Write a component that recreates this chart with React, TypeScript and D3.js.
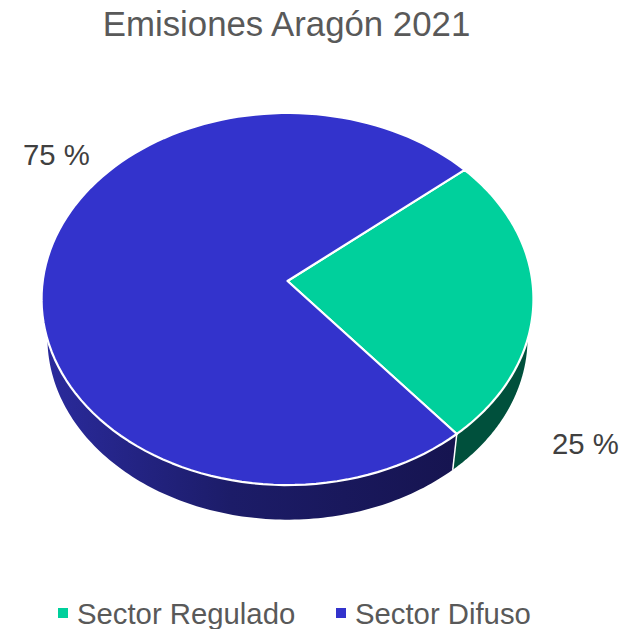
import * as d3 from "d3";

const categories = ["Sector Regulado", "Sector Difuso"];
const values = [25, 75];
const labels = ["25 %", "75 %"];
const topColors = ["#00d09c", "#3333cc"];
const title = "Emisiones Aragón 2021";

const cx = 287.5, apexY = 281;
const a = 244.8, b = 184.3, k = 0.0968;
const lowerScale = 0.976, lowerY = 320.5;
const deg = Math.PI / 180;
const fontFamily = "'Liberation Sans', Arial, sans-serif";

// angle is measured clockwise from the far side of the disc
const project = (t: number, scale = 1, y0 = apexY): [number, number] => {
  const u = Math.sin(t), v = -Math.cos(t);
  const w = 1 - k * v;
  return [cx + (scale * a * u) / w, y0 + (scale * b * v) / w];
};
const sample = (t0: number, t1: number) =>
  d3.range(0, 121).map((i) => t0 + ((t1 - t0) * i) / 120);
const line = d3.line();

const wallStart = 95.6 * deg, wallEnd = 264.4 * deg;

export default function App() {
  const pie = d3.pie<number>().sort(null).startAngle(50.2 * deg).endAngle(410.2 * deg);
  const arcs = pie(values);

  const slices = arcs.map((d, i) => {
    const pts = sample(d.startAngle, d.endAngle).map((t) => project(t));
    return { i, path: line([[cx, apexY], ...pts])! + "Z" };
  });

  const walls = arcs.map((d, i) => {
    const s = Math.max(d.startAngle, wallStart);
    const e = Math.min(d.endAngle, wallEnd);
    const lower = sample(s, e).map((t) => project(t, lowerScale, lowerY));
    const upper = sample(e, s).map((t) => project(t));
    return { i, path: line([...lower, ...upper])! + "Z" };
  });

  // divider at the front boundary between the two walls
  const boundary = arcs[0].endAngle;

  return (
    <svg
      width={631}
      height={629}
      viewBox="0 0 631 629"
      style={{ position: "absolute", left: 0, top: 0, background: "#fff" }}
    >
      <defs>
        <linearGradient id="wallBlue" gradientUnits="userSpaceOnUse" x1={47} y1={0} x2={456} y2={0}>
          <stop offset="0" stopColor="#2a2a9c" />
          <stop offset="0.45" stopColor="#1c1c68" />
          <stop offset="1" stopColor="#161450" />
        </linearGradient>
      </defs>
      <text x={286.5} y={36} textAnchor="middle" fontFamily={fontFamily} fontSize={34.8} fill="#595959">
        {title}
      </text>
      <path d={walls[0].path} fill="#00503c" />
      <path d={walls[1].path} fill="url(#wallBlue)" />
      <path
        d={line([project(boundary), project(boundary, lowerScale, lowerY)])!}
        stroke="#fff"
        strokeWidth={1.5}
        fill="none"
      />
      {slices.map((s) => (
        <path key={s.i} d={s.path} fill={topColors[s.i]} stroke="#fff" strokeWidth={2.2} strokeLinejoin="round" />
      ))}
      <text x={552} y={454} fontFamily={fontFamily} fontSize={29.3} fill="#404040">{labels[0]}</text>
      <text x={23} y={165} fontFamily={fontFamily} fontSize={29.3} fill="#404040">{labels[1]}</text>
      <rect x={58} y={608} width={10} height={10} fill={topColors[0]} />
      <text x={77} y={624} fontFamily={fontFamily} fontSize={29.3} fill="#595959">{categories[0]}</text>
      <rect x={336} y={608} width={10} height={10} fill={topColors[1]} />
      <text x={355} y={624} fontFamily={fontFamily} fontSize={29.3} fill="#595959">{categories[1]}</text>
    </svg>
  );
}
